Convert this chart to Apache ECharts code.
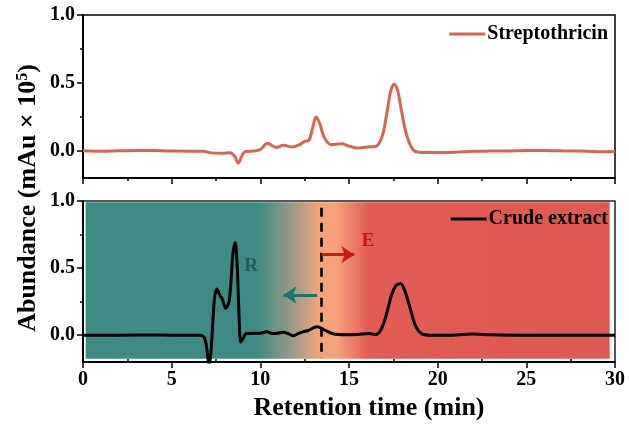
<!DOCTYPE html>
<html>
<head>
<meta charset="utf-8">
<script src="https://cdn.jsdelivr.net/npm/echarts@6/dist/echarts.min.js"></script>
<style>html,body{margin:0;padding:0;background:#fff}#c{width:629px;height:429px}</style>
</head>
<body>
<div id="c"></div>
<script>
// ---- data ----
var topTimes = [0,1,2,3,4,5,6,6.8,7.2,7.8,8.3,8.55,8.75,8.95,9.15,9.6,10.0,10.4,10.9,11.3,11.8,12.2,12.5,12.75,12.95,13.15,13.35,13.6,14.0,14.6,15.0,15.5,16.0,16.5,16.85,17.1,17.35,17.55,17.75,17.95,18.2,18.5,18.75,19.2,20,21,22,23,24,25,26,27,28,29,30];
var streptothricin = [0,-0.003,0,0.003,0.002,-0.002,-0.003,-0.003,-0.015,-0.018,-0.015,-0.04,-0.09,-0.04,-0.005,-0.002,0.01,0.055,0.025,0.042,0.028,0.045,0.07,0.08,0.17,0.25,0.2,0.1,0.045,0.052,0.035,0.02,0.028,0.032,0.1,0.25,0.44,0.49,0.44,0.3,0.14,0.03,-0.005,-0.012,-0.012,-0.01,-0.003,-0.002,-0.001,0.002,0.003,0,-0.002,-0.006,-0.004];
var crudeTimes = [0,2,4,5,6,6.6,6.85,7.0,7.1,7.2,7.3,7.42,7.55,7.7,7.85,8.05,8.25,8.45,8.58,8.7,8.8,8.9,9.05,9.2,9.6,10.0,10.35,10.7,11.0,11.3,11.6,11.85,12.1,12.4,12.7,13.2,13.6,14.1,14.8,15.5,16.1,16.5,16.8,17.1,17.4,17.65,17.9,18.15,18.45,18.75,19.1,19.5,20.5,22,23,25,27,30];
var crudeExtract = [0,0,0.002,0,0,0,-0.02,-0.12,-0.22,-0.15,0.05,0.28,0.345,0.3,0.27,0.2,0.26,0.6,0.69,0.5,0.15,-0.05,-0.02,0.012,0.015,0.015,0.025,0.012,0.015,0.022,0.01,-0.005,0.01,0.025,0.035,0.062,0.04,0.01,0.003,0.005,0.012,0.005,0.04,0.15,0.3,0.37,0.386,0.33,0.2,0.07,0.01,0,0,0.008,0.003,0,0,0];
var xTickLabels = [0,5,10,15,20,25,30];
var xMinorTicks = [2.5,7.5,12.5,17.5,22.5,27.5];
var yTickLabels = [0,0.5,1.0];
var yMinorTicks = [0.25,0.75];
var cutTime = 13.46;

function pairs(t, v){ var o=[]; for(var i=0;i<t.length;i++) o.push([t[i],v[i]]); return o; }

var font = 'Liberation Serif';
var chart = echarts.init(document.getElementById('c'));

function yAxisMain(grid){
  return {type:'value', gridIndex:grid, position:'left', min:-0.2, max:1.0,
    axisLine:{show:true, onZero:false, lineStyle:{color:'#000', width:2}},
    axisTick:{show:true, inside:false, length:6, lineStyle:{color:'#000', width:1.5}, customValues:yTickLabels},
    axisLabel:{show:true, customValues:yTickLabels, fontFamily:font, fontWeight:'bold', fontSize:20, color:'#000', margin:8,
      formatter:function(v){return v.toFixed(1);}},
    splitLine:{show:false}};
}
function yAxisMinor(grid){
  return {type:'value', gridIndex:grid, position:'left', min:-0.2, max:1.0,
    axisLine:{show:false, onZero:false},
    axisTick:{show:true, inside:false, length:3, lineStyle:{color:'#000', width:1.5}, customValues:yMinorTicks},
    axisLabel:{show:false}, splitLine:{show:false}};
}

var option = {
  animation:false,
  backgroundColor:'#fff',
  grid:[
    {left:83, top:15, width:532, height:163, show:true, borderColor:'#000', borderWidth:1.5, backgroundColor:'transparent'},
    {left:83, top:201, width:532, height:161, show:true, borderColor:'#222', borderWidth:1.5, backgroundColor:'transparent'}
  ],
  xAxis:[
    {type:'value', gridIndex:0, min:0, max:30, interval:5,
      axisLine:{show:true, onZero:false, lineStyle:{color:'#000', width:2}},
      axisTick:{show:true, length:6, lineStyle:{color:'#000', width:1.5}},
      minorTick:{show:true, splitNumber:2, length:3, lineStyle:{color:'#000', width:1.5}},
      axisLabel:{show:false}, splitLine:{show:false}},
    {type:'value', gridIndex:1, min:0, max:30, interval:5,
      axisLine:{show:true, onZero:false, lineStyle:{color:'#000', width:2}},
      axisTick:{show:true, length:6, lineStyle:{color:'#000', width:1.5}, customValues:xTickLabels},
      axisLabel:{show:true, customValues:xTickLabels, fontFamily:font, fontWeight:'bold', fontSize:20, color:'#000', margin:8},
      splitLine:{show:false}},
    {type:'value', gridIndex:1, position:'bottom', min:0, max:30,
      axisLine:{show:false, onZero:false},
      axisTick:{show:true, inside:true, length:3, lineStyle:{color:'#000', width:1.5}, customValues:xMinorTicks},
      axisLabel:{show:false}, splitLine:{show:false}}
  ],
  yAxis:[ yAxisMain(0), yAxisMain(1), yAxisMinor(0), yAxisMinor(1) ],
  legend:[
    {data:['Streptothricin'], right:21, top:24, padding:0, icon:'rect', itemWidth:36, itemHeight:3, itemGap:0,
      textStyle:{fontFamily:font, fontWeight:'bold', fontSize:20, color:'#000', padding:[0,0,0,-3]}},
    {data:['Crude extract'], right:21, top:209, padding:0, icon:'rect', itemWidth:36, itemHeight:3, itemGap:0,
      textStyle:{fontFamily:font, fontWeight:'bold', fontSize:20, color:'#000', padding:[0,0,0,-3]}}
  ],
  series:[
    {name:'Streptothricin', type:'line', xAxisIndex:0, yAxisIndex:0, data:pairs(topTimes, streptothricin),
      smooth:0.35, symbol:'none', color:'#db6352', lineStyle:{color:'#db6352', width:3}, z:5},
    {name:'Crude extract', type:'line', xAxisIndex:1, yAxisIndex:1, data:pairs(crudeTimes, crudeExtract),
      smooth:0.35, symbol:'none', color:'#000', lineStyle:{color:'#000', width:3}, z:5,
      markArea:{silent:true, z:1,
        itemStyle:{color:new echarts.graphic.LinearGradient(0,0,1,0,[
          {offset:0, color:'#3e8b83'},{offset:0.33, color:'#3e8b83'},{offset:0.40, color:'#a39b88'},
          {offset:0.445, color:'#f2a47c'},{offset:0.48, color:'#f5a17a'},{offset:0.54, color:'#e15c54'},{offset:1, color:'#df5953'}])},
        data:[[{coord:[0.15,0.99]},{coord:[29.7,-0.175]}]]},
      markLine:{silent:true, animation:false, symbolSize:[13,13], label:{show:false},
        data:[
          [{coord:[cutTime,0.95], symbol:'none', lineStyle:{color:'#000', width:2.6, type:[9,6]}},{coord:[cutTime,-0.17], symbol:'none'}],
          [{coord:[13.2,0.30], symbol:'none', lineStyle:{color:'#17766e', width:3, type:'solid'}},{coord:[11.3,0.30], symbol:'arrow'}],
          [{coord:[cutTime,0.60], symbol:'none', lineStyle:{color:'#cc1a1a', width:3, type:'solid'}},{coord:[15.3,0.60], symbol:'arrow'}]
        ]},
      markPoint:{silent:true, symbol:'circle', symbolSize:0,
        label:{show:true, position:'inside', fontFamily:font, fontWeight:'bold', fontSize:19},
        data:[
          {coord:[9.48,0.515], label:{formatter:'R', color:'#1c5f57'}},
          {coord:[16.07,0.70], label:{formatter:'E', color:'#c8151b'}}
        ]}
    }
  ],
  graphic:[
    {type:'text', x:28, y:198, rotation:Math.PI/2, style:{text:'Abundance (mAu × 10{sup|5})', fontFamily:font, fontWeight:'bold', fontSize:26, fill:'#000', align:'center', verticalAlign:'middle',
      rich:{sup:{fontFamily:font, fontWeight:'bold', fontSize:16, verticalAlign:'top', padding:[0,0,10,0]}}}},
    {type:'text', x:369, y:408, style:{text:'Retention time (min)', fontFamily:font, fontWeight:'bold', fontSize:26, fill:'#000', align:'center', verticalAlign:'middle'}}
  ]
};
chart.setOption(option);
</script>
</body>
</html>
